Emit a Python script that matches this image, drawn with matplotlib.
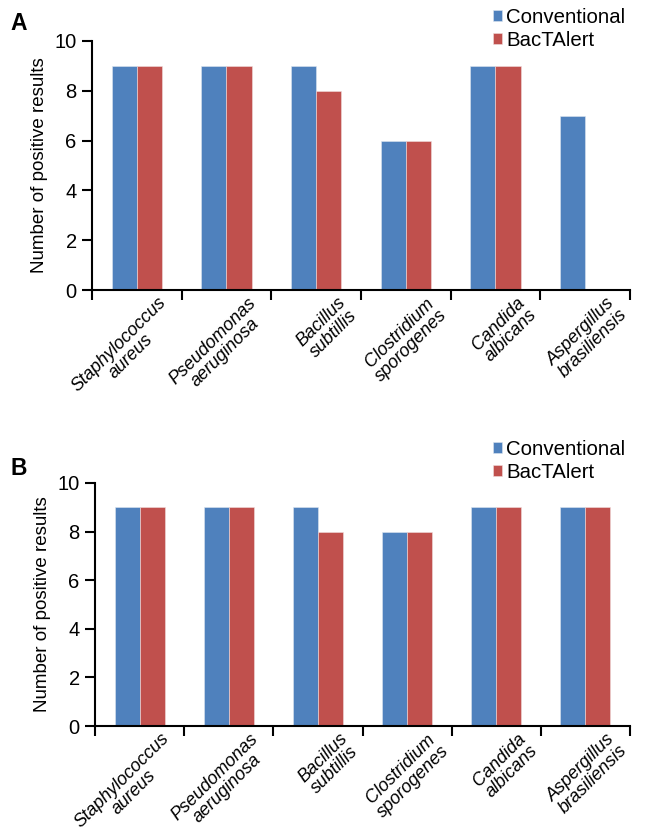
import matplotlib.pyplot as plt
import matplotlib.transforms as mtransforms
import numpy as np

plt.rcParams['font.family'] = ['Liberation Sans', 'DejaVu Sans']

organismos = ['Staphylococcus\naureus', 'Pseudomonas\naeruginosa', 'Bacillus\nsubtillis',
              'Clostridium\nsporogenes', 'Candida\nalbicans', 'Aspergillus\nbrasiliensis']
series = ['Conventional', 'BacTAlert']

convencional_a = [9, 9, 9, 6, 9, 7]
bactalert_a = [9, 9, 8, 6, 9, 0]
convencional_b = [9, 9, 9, 8, 9, 9]
bactalert_b = [9, 9, 8, 8, 9, 9]

azul = '#4F81BD'
rojo = '#C0504D'

W, H = 645, 832
fig = plt.figure(figsize=(W / 100, H / 100), dpi=100)

# ejes en pixeles: (izq, der, arriba, abajo)
def ejes_px(x0, x1, y0, y1):
    return fig.add_axes([x0 / W, 1 - y1 / H, (x1 - x0) / W, (y1 - y0) / H])

ax_a = ejes_px(92, 630, 41, 290)
ax_b = ejes_px(95, 630, 483, 726)


def dibujar(ax, conv, bact, letra, y_letra, y_leyenda):
    x = np.arange(len(organismos))
    w = 0.28
    ax.bar(x - w / 2, conv, w, color=azul, label=series[0], edgecolor='#dde6f0', linewidth=0.4)
    ax.bar(x + w / 2, bact, w, color=rojo, label=series[1], edgecolor='#f0dede', linewidth=0.4)
    ax.set_xlim(-0.5, len(organismos) - 0.5)
    ax.set_ylim(0, 10)
    ax.set_yticks(range(0, 11, 2))
    ax.tick_params(axis='y', labelsize=14.5, direction='out', length=7, width=1.5, pad=4)
    ax.set_xticks(np.arange(-0.5, len(organismos)), labels=[])
    ax.tick_params(axis='x', which='major', direction='out', length=7, width=1.5)
    ax.set_xticks(x, minor=True)
    ax.set_xticklabels(organismos, minor=True, rotation=45, ha='right', va='top',
                       rotation_mode='anchor', style='italic', fontsize=13, multialignment='center',
                       linespacing=1.0)
    ax.tick_params(axis='x', which='minor', length=0, pad=3)
    # las etiquetas quedan algo a la derecha del centro, como en el original
    desplazar = mtransforms.ScaledTranslation(21 / 100, 0, fig.dpi_scale_trans)
    for lbl in ax.get_xticklabels(minor=True):
        lbl.set_transform(lbl.get_transform() + desplazar)
    ax.spines['top'].set_visible(False)
    ax.spines['right'].set_visible(False)
    ax.spines['left'].set_linewidth(1.5)
    ax.spines['bottom'].set_linewidth(1.5)
    ax.set_ylabel('Number of positive results', fontsize=13.5, labelpad=5)
    ax.legend(loc='upper left', bbox_to_anchor=(493 / W, 1 - y_leyenda / H),
              bbox_transform=fig.transFigure, frameon=False, fontsize=14.7,
              handlelength=0.45, handleheight=0.45, handletextpad=0.2, labelspacing=0.2,
              borderpad=0, borderaxespad=0)
    fig.text(10 / W, 1 - y_letra / H, letra, fontsize=16.5, fontweight='bold', va='baseline')


dibujar(ax_a, convencional_a, bactalert_a, 'A', 30, 8)
dibujar(ax_b, convencional_b, bactalert_b, 'B', 475, 440)

fig.savefig('out.png', dpi=100)
